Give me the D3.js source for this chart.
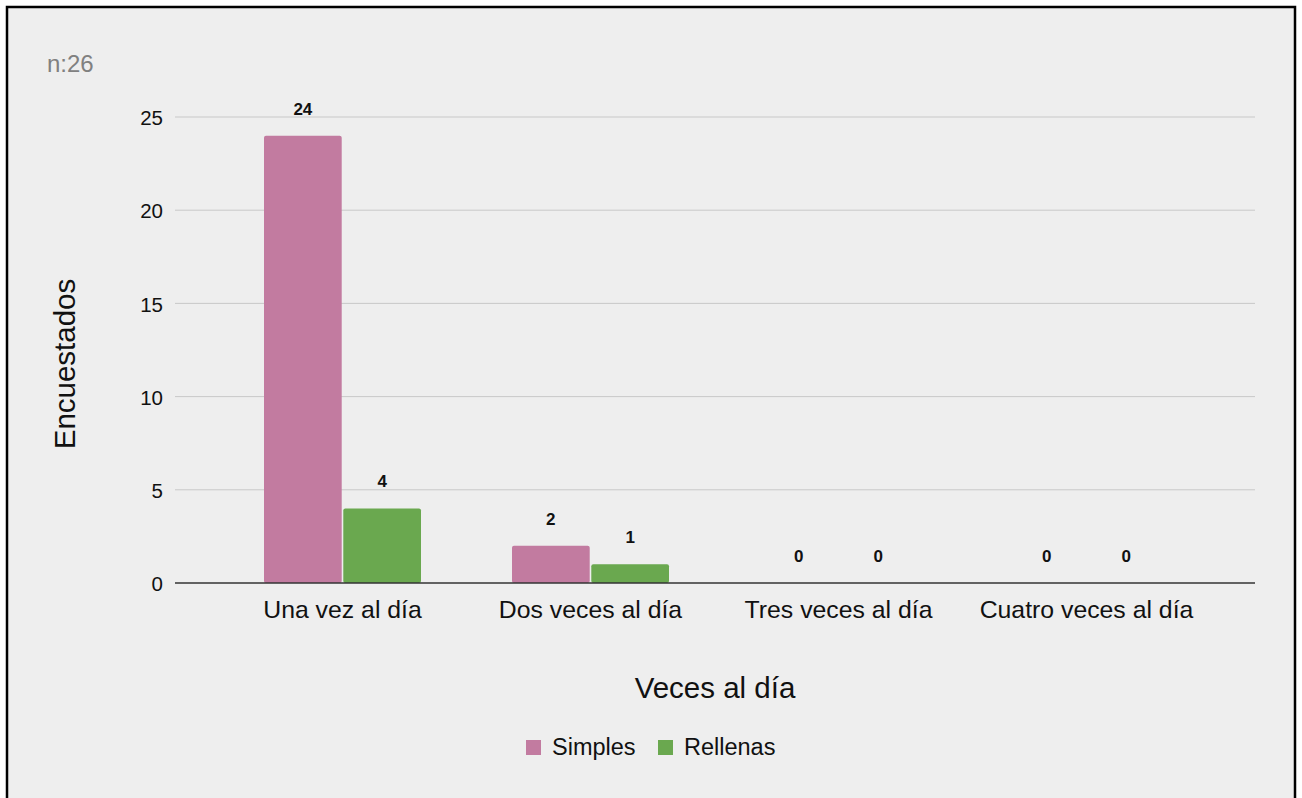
<!DOCTYPE html>
<html>
<head>
<meta charset="utf-8">
<script src="https://cdn.jsdelivr.net/npm/d3@7"></script>
<style>
  html, body { margin: 0; padding: 0; background: #ffffff; }
  svg { display: block; font-family: "Liberation Sans", Arial, sans-serif; }
</style>
</head>
<body>
<svg id="chart" width="1302" height="798"></svg>
<script>
// Frecuencia de consumo por tipo
const categories = ["Una vez al día", "Dos veces al día", "Tres veces al día", "Cuatro veces al día"];
const seriesNames = ["Simples", "Rellenas"];
const simples = [24, 2, 0, 0];
const rellenas = [4, 1, 0, 0];
const yTicks = [0, 5, 10, 15, 20, 25];
const colors = ["#c27ba0", "#6aa84f"];

const FONT = "'Liberation Sans', Arial, sans-serif";
const svg = d3.select("#chart");

// panel with border (bottom edge runs off the page)
svg.append("rect")
  .attr("x", 7).attr("y", 7)
  .attr("width", 1288).attr("height", 800)
  .attr("fill", "#eeeeee")
  .attr("stroke", "#000").attr("stroke-width", 2.5);

const plotLeft = 175, plotRight = 1255;
const y = d3.scaleLinear().domain([0, 25]).range([583, 117]);
const x0 = d3.scaleBand().domain(categories).range([218.5, 1210.5]).paddingInner(0).paddingOuter(0);
const groupW = 157;
const x1 = d3.scaleBand().domain(seriesNames).range([0, groupW]).paddingInner(0.02);

// gridlines
svg.append("g")
  .selectAll("line")
  .data(yTicks.filter(t => t > 0))
  .join("line")
  .attr("x1", plotLeft).attr("x2", plotRight)
  .attr("y1", d => y(d)).attr("y2", d => y(d))
  .attr("stroke", "#c8c8c8").attr("stroke-width", 1);

// y axis labels
const yAxis = d3.axisLeft(y).tickValues(yTicks).tickSize(0).tickPadding(12);
const yg = svg.append("g").attr("transform", `translate(${plotLeft},0)`).call(yAxis);
yg.select(".domain").remove();
yg.selectAll("text")
  .attr("font-size", 20.5).attr("fill", "#111").attr("font-family", FONT)
  .attr("dy", "0.38em");

// bars
const data = categories.map((c, i) => ({ cat: c, vals: [simples[i], rellenas[i]] }));
const groups = svg.append("g").selectAll("g")
  .data(data).join("g")
  .attr("transform", d => `translate(${x0(d.cat) + (x0.bandwidth() - groupW) / 2},0)`);

groups.selectAll("rect")
  .data(d => d.vals.map((v, j) => ({ v, s: seriesNames[j], j })))
  .join("rect")
  .filter(d => d.v > 0)
  .attr("x", d => x1(d.s))
  .attr("y", d => y(d.v))
  .attr("width", x1.bandwidth())
  .attr("height", d => y(0) - y(d.v))
  .attr("rx", 2)
  .attr("fill", d => colors[d.j]);

// value labels
groups.selectAll("text")
  .data(d => d.vals.map((v, j) => ({ v, s: seriesNames[j] })))
  .join("text")
  .attr("x", d => x1(d.s) + x1.bandwidth() / 2)
  .attr("y", d => y(d.v) - 21)
  .attr("text-anchor", "middle")
  .attr("font-size", 17)
  .attr("font-weight", "bold")
  .attr("fill", "#111")
  .text(d => d.v);

// baseline
svg.append("line")
  .attr("x1", plotLeft).attr("x2", plotRight)
  .attr("y1", y(0)).attr("y2", y(0))
  .attr("stroke", "#333").attr("stroke-width", 1.3);

// x axis labels
const xAxis = d3.axisBottom(x0).tickSize(0);
const xg = svg.append("g").attr("transform", `translate(0,${y(0)})`).call(xAxis);
xg.select(".domain").remove();
xg.selectAll("text")
  .attr("font-size", 24.8).attr("fill", "#111").attr("font-family", FONT)
  .attr("y", 35).attr("dy", 0);

// axis titles
svg.append("text")
  .attr("transform", "translate(75,364) rotate(-90)")
  .attr("text-anchor", "middle")
  .attr("font-size", 29.5)
  .attr("fill", "#111")
  .text("Encuestados");

svg.append("text")
  .attr("x", 715).attr("y", 698)
  .attr("text-anchor", "middle")
  .attr("font-size", 29.5)
  .attr("fill", "#111")
  .text("Veces al día");

// sample size note
svg.append("text")
  .attr("x", 47).attr("y", 72)
  .attr("font-size", 24)
  .attr("fill", "#808080")
  .text("n:26");

// legend
const legendItems = [{ name: seriesNames[0], x: 526 }, { name: seriesNames[1], x: 658 }];
const lg = svg.append("g").selectAll("g").data(legendItems).join("g")
  .attr("transform", d => `translate(${d.x},740)`);
lg.append("rect").attr("width", 15).attr("height", 15)
  .attr("fill", (d, i) => colors[i]);
lg.append("text").attr("x", 26).attr("y", 15)
  .attr("font-size", 23.5).attr("fill", "#111")
  .text(d => d.name);
</script>
</body>
</html>
